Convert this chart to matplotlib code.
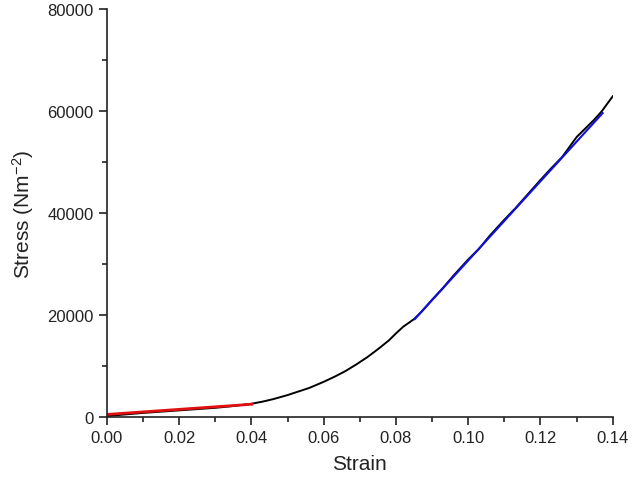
import numpy as np
import matplotlib.pyplot as plt
from matplotlib.ticker import MultipleLocator

plt.rcParams['font.family'] = ['Liberation Sans', 'DejaVu Sans']
plt.rcParams['mathtext.default'] = 'regular'

# measured curve (strain, stress in N/m^2)
strain = [0.000, 0.005, 0.010, 0.015, 0.020, 0.025, 0.030, 0.035, 0.040, 0.043,
          0.046, 0.050, 0.053, 0.056, 0.060, 0.063, 0.066, 0.069, 0.072, 0.075,
          0.078, 0.080, 0.082, 0.085, 0.087, 0.090, 0.093, 0.096, 0.100, 0.103,
          0.106, 0.110, 0.113, 0.116, 0.120, 0.123, 0.126, 0.130, 0.133, 0.135,
          0.137, 0.140]
stress = [200, 500, 800, 1050, 1300, 1550, 1800, 2150, 2600, 3000,
          3500, 4300, 5000, 5700, 6900, 7900, 9000, 10300, 11700, 13300,
          15000, 16400, 17700, 19200, 20600, 23000, 25300, 27800, 30900, 33000,
          35600, 38700, 40900, 43300, 46500, 48800, 51000, 54900, 57000, 58400,
          60000, 62900]

# linear fits
fit1_x = [0.0, 0.0401]
fit1_y = [500, 2500]
fit2_x = [0.0852, 0.1372]
fit2_y = [19200, 59600]

fig = plt.figure(figsize=(6.33, 4.81), dpi=100)
ax = fig.add_axes([0.169, 0.131, 0.799, 0.848])

ax.plot(strain, stress, color='black', lw=1.4)
ax.plot(fit1_x, fit1_y, color='#e01010', lw=2)
ax.plot(fit2_x, fit2_y, color='#1010e0', lw=1.5)

ax.set_xlim(0, 0.14)
ax.set_ylim(0, 80000)
ax.xaxis.set_major_locator(MultipleLocator(0.02))
ax.xaxis.set_minor_locator(MultipleLocator(0.01))
ax.yaxis.set_major_locator(MultipleLocator(20000))
ax.yaxis.set_minor_locator(MultipleLocator(10000))
ax.xaxis.set_major_formatter(plt.FormatStrFormatter('%.2f'))

ax.spines['top'].set_visible(False)
ax.spines['right'].set_visible(False)
for s in ['left', 'bottom']:
    ax.spines[s].set_linewidth(1.2)
    ax.spines[s].set_color('#222222')
ax.tick_params(which='major', direction='out', length=6, width=1.2, labelsize=12, colors='#222222')
ax.tick_params(which='minor', direction='out', length=3.5, width=1.2, colors='#222222')

ax.set_xlabel('Strain', fontsize=15, color='#222222', labelpad=6)
ax.set_ylabel('Stress (Nm$^{-2}$)', fontsize=15, color='#222222', labelpad=8)

fig.savefig('out.png', dpi=100)
